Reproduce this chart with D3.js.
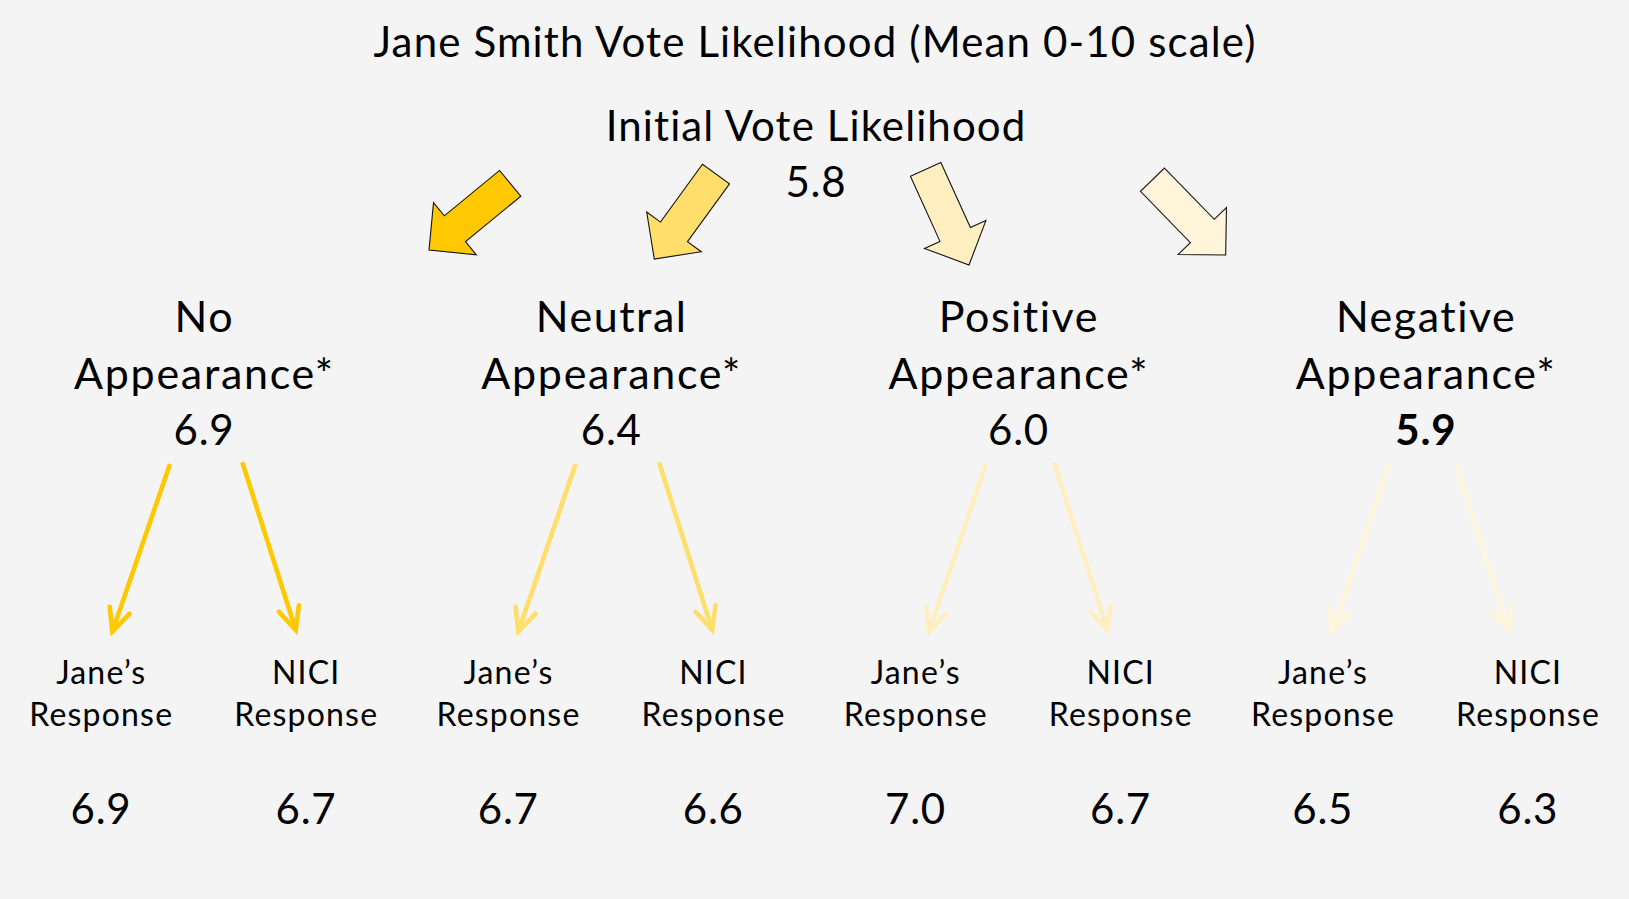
<!DOCTYPE html>
<html><head><meta charset="utf-8">
<script src="https://cdn.jsdelivr.net/npm/d3@7"></script>
<style>html,body{margin:0;padding:0;background:#f4f4f4;}svg{display:block;}</style>
</head><body>
<svg id="chart" width="1629" height="899"></svg>
<script>
// ---- data ----
const chartTitle = "Jane Smith Vote Likelihood (Mean 0-10 scale)";
const initialLabel = "Initial Vote Likelihood";
const initialMean = 5.8;
const categories = ["No", "Neutral", "Positive", "Negative"];
const categorySuffix = "Appearance*";
const appearanceMeans = [6.9, 6.4, 6.0, 5.9];
const responseTypes = ["Jane’s", "NICI"];
const responseSuffix = "Response";
const janeResponse = [6.9, 6.7, 7.0, 6.5];
const niciResponse = [6.7, 6.6, 6.7, 6.3];

// ---- styles / layout ----
const W = 1629, H = 899;
const colors = ["#ffc800", "#ffde6b", "#ffefc0", "#fff5da"];
const boldCategory = "Negative";
const FONT = "Lato, 'Open Sans', sans-serif";
const topArrowLayout = [
  {dx: 225.4, ty: 250, ang: 140.6},
  {dx: 43.4, ty: 259, ang: 126.0},
  {dx: -49.1, ty: 265, ang: 65.6},
  {dx: -199.7, ty: 255, ang: 45.8}
];
const lowArrowLayout = [
  [[-33.6, -91.3], [38.7, 92.1]],
  [[-35.2, -92.6], [48.1, 101.4]],
  [[-32.1, -89.1], [35.9, 89.2]],
  [[-36.4, -93.1], [29.9, 83.3]]
];

const svg = d3.select("#chart");
svg.append("rect").attr("width", W).attr("height", H).attr("fill", "#f4f4f4");

const x = d3.scaleBand().domain(categories).range([0, W]);
const cx = c => x(c) + x.bandwidth() / 2;
const xs = d3.scalePoint().domain(responseTypes).range([-103, 102]);
const color = d3.scaleOrdinal().domain(categories).range(colors);

function txt(str, px, py, size, ls, weight) {
  return svg.append("text").attr("x", px + ls / 2).attr("y", py)
    .attr("text-anchor", "middle").attr("font-family", FONT)
    .attr("font-size", size).attr("font-weight", weight || 400)
    .attr("letter-spacing", ls)
    .attr("fill", "#000").text(str);
}

// titles
txt(chartTitle, W / 2, 57, 42, 1.15);
txt(initialLabel, W / 2 + 1, 141, 42, 1.1);
txt(d3.format(".1f")(initialMean), W / 2 + 1, 197, 42, 0.8);

// top block arrows
const L = 105, sw = 16.7, hl = 33.5, hw = 33.7;
const blockPts = [[0, -sw], [L - hl, -sw], [L - hl, -hw], [L, 0], [L - hl, hw], [L - hl, sw], [0, sw]];
categories.forEach((c, i) => {
  const lay = topArrowLayout[i];
  const a = lay.ang * Math.PI / 180;
  const tipX = cx(c) + lay.dx, tipY = lay.ty;
  const tx = tipX - L * Math.cos(a), ty = tipY - L * Math.sin(a);
  svg.append("path")
    .attr("d", d3.line()(blockPts) + "Z")
    .attr("transform", `translate(${tx},${ty}) rotate(${lay.ang})`)
    .attr("fill", color(c)).attr("stroke", "#111").attr("stroke-width", 1.1)
    .attr("stroke-linejoin", "miter");
});

// category labels
categories.forEach((c, i) => {
  txt(c, cx(c), 332, 43, 1.5);
  txt(categorySuffix, cx(c), 389, 43, 1.7);
  txt(d3.format(".1f")(appearanceMeans[i]), cx(c), 445, 42, 0.8, c === boldCategory ? 700 : 400);
});

// lower arrows
const wingLen = 25, wingAng = 25 * Math.PI / 180;
categories.forEach((c, i) => {
  [0, 1].forEach(k => {
    const [sdx, tdx] = lowArrowLayout[i][k];
    const x0 = cx(c) + sdx, y0 = k === 0 ? 464 : 462.3;
    const x1 = cx(c) + tdx, y1 = k === 0 ? 631.7 : 630;
    const back = Math.atan2(y0 - y1, x0 - x1);
    const w1 = [x1 + wingLen * Math.cos(back + wingAng), y1 + wingLen * Math.sin(back + wingAng)];
    const w2 = [x1 + wingLen * Math.cos(back - wingAng), y1 + wingLen * Math.sin(back - wingAng)];
    const g = svg.append("g").attr("stroke", color(c)).attr("stroke-width", 4.6)
      .attr("fill", "none");
    g.append("path").attr("d", d3.line()([[x0, y0], [x1, y1]])).attr("stroke-linecap", "butt");
    g.append("path").attr("d", d3.line()([w1, [x1, y1], w2]))
      .attr("stroke-linecap", "round").attr("stroke-linejoin", "miter");
  });
});

// response labels & values
categories.forEach((c, i) => {
  const vals = [janeResponse[i], niciResponse[i]];
  responseTypes.forEach((r, k) => {
    const px = cx(c) + xs(r);
    txt(r, px, 684, 32, 1.2);
    txt(responseSuffix, px, 726, 32, 1.2);
    txt(d3.format(".1f")(vals[k]), px, 824, 42, 0.8);
  });
});
</script>
</body></html>
